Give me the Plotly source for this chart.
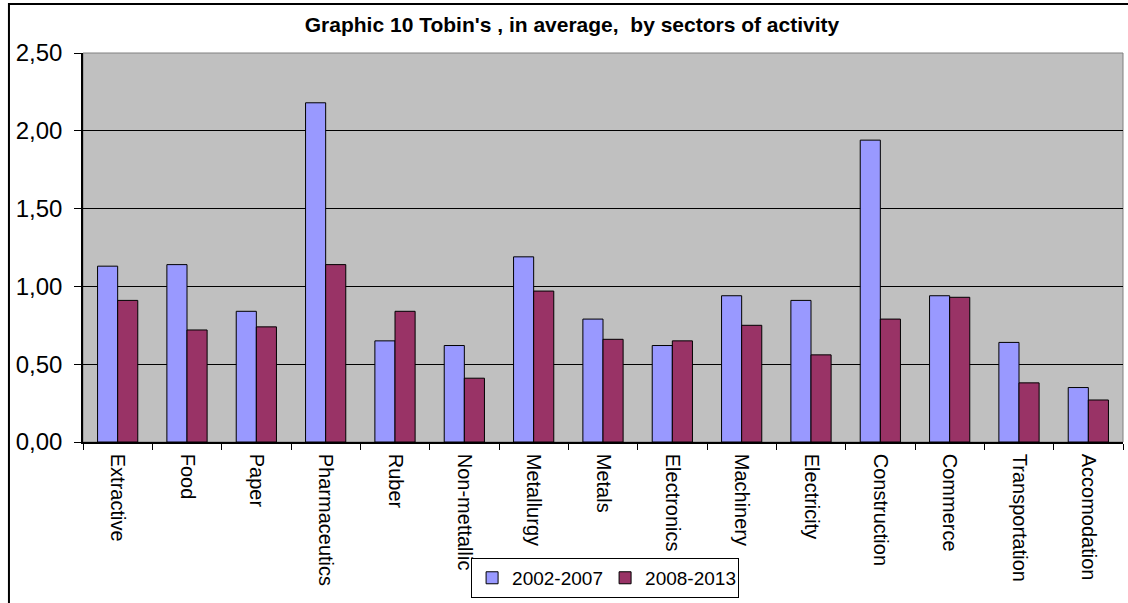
import plotly.graph_objects as go

sectors = ["Extractive", "Food", "Paper", "Pharmaceutics", "Ruber", "Non-mettallic",
           "Metallurgy", "Metals", "Electronics", "Machinery", "Electricity",
           "Construction", "Commerce", "Transportation", "Accomodation"]
period_2002_2007 = [1.13, 1.14, 0.84, 2.18, 0.65, 0.62, 1.19, 0.79, 0.62, 0.94, 0.91,
                    1.94, 0.94, 0.64, 0.35]
period_2008_2013 = [0.91, 0.72, 0.74, 1.14, 0.84, 0.41, 0.97, 0.66, 0.65, 0.75, 0.56,
                    0.79, 0.93, 0.38, 0.27]
y_ticks = [0, 0.5, 1.0, 1.5, 2.0, 2.5]

FONT = "Liberation Sans, Arial, sans-serif"

fig = go.Figure()
fig.add_trace(go.Bar(x=sectors, y=period_2002_2007, name="2002-2007",
                     marker=dict(color="#9999FF", line=dict(color="black", width=1))))
fig.add_trace(go.Bar(x=sectors, y=period_2008_2013, name="2008-2013",
                     marker=dict(color="#993366", line=dict(color="black", width=1))))

# plot-area frame (light) and outer chart frame (black)
fig.add_shape(type="rect", xref="paper", yref="paper", x0=0, x1=1, y0=0, y1=1,
              line=dict(color="#808080", width=1), layer="below")
fig.add_shape(type="rect", xref="paper", yref="paper", x0=-0.0712, x1=1.02,
              y0=-0.45, y1=1.126, line=dict(color="black", width=2))

fig.update_layout(
    width=1128, height=603,
    margin=dict(l=83, r=5, t=53, b=161),
    paper_bgcolor="white", plot_bgcolor="#C0C0C0",
    separators=",.",
    font=dict(family=FONT, color="black"),
    title=dict(text="<b>Graphic 10 Tobin's , in average,  by sectors of activity</b>",
               x=572 / 1128, xanchor="center", y=1 - 25 / 603, yanchor="middle",
               font=dict(size=21, family=FONT, color="black")),
    barmode="group", bargap=0.42, bargroupgap=0,
    showlegend=True,
    legend=dict(orientation="h", x=0.502, xanchor="center", y=-0.298, yanchor="top",
                bgcolor="white", bordercolor="black", borderwidth=1,
                font=dict(size=19, family=FONT), itemwidth=30,
                entrywidth=88, entrywidthmode="pixels",
                traceorder="normal"),
    xaxis=dict(tickangle=90, tickfont=dict(size=20, family=FONT),
               ticks="outside", tickson="boundaries", ticklen=6, tickcolor="black",
               ticklabelstandoff=6,
               showline=True, linecolor="black", linewidth=1.5,
               showgrid=False),
    yaxis=dict(range=[0, 2.5], tickvals=y_ticks, tickformat=".2f",
               tickfont=dict(size=24, family=FONT),
               ticks="outside", ticklen=7, tickcolor="black",
               ticklabelstandoff=7,
               showline=True, linecolor="black", linewidth=1.5,
               showgrid=True, gridcolor="black", gridwidth=1,
               zeroline=False),
)

fig.write_html("out.html")
